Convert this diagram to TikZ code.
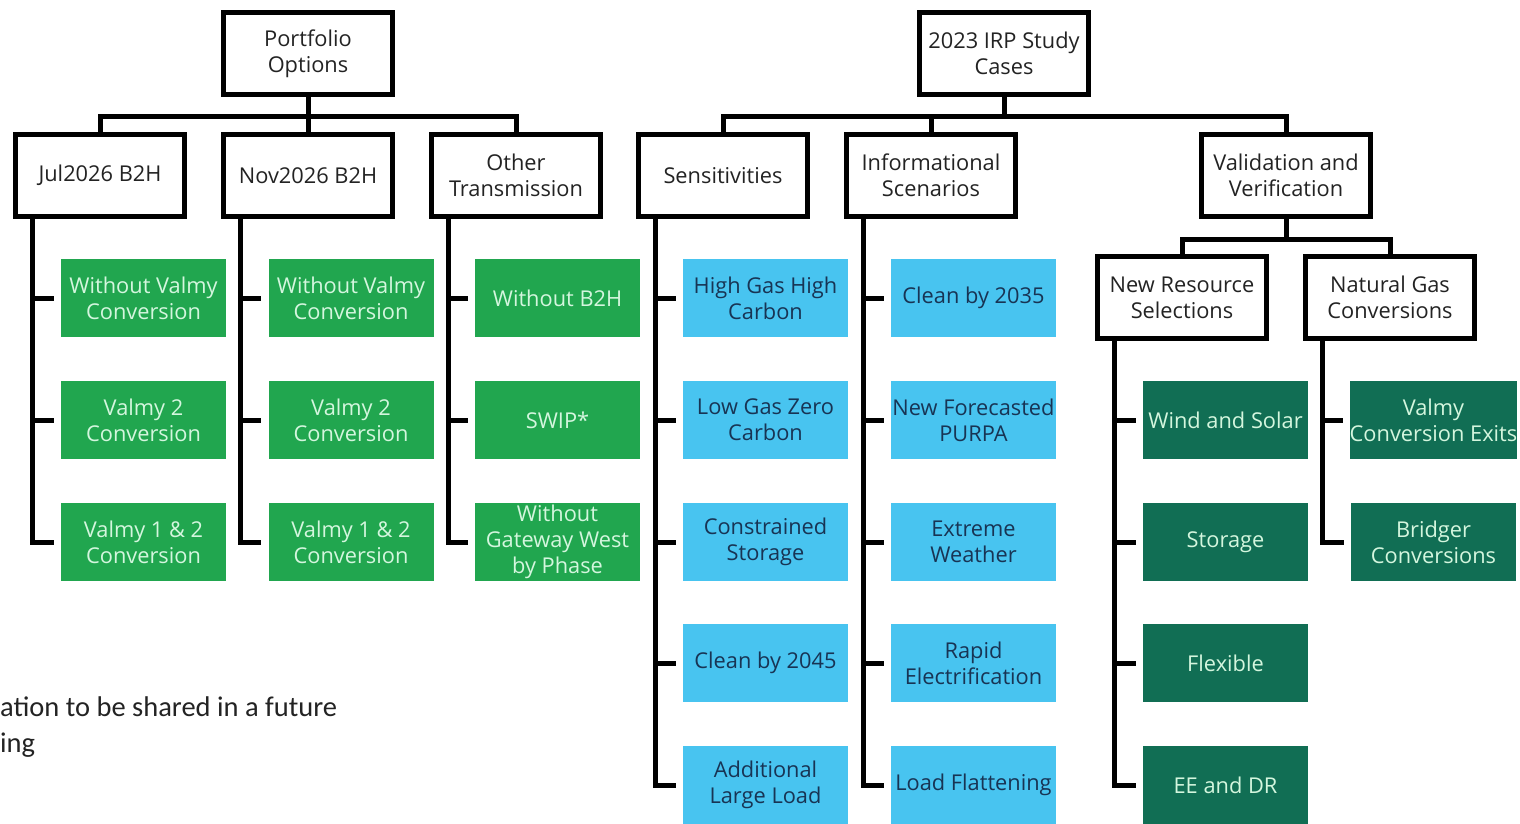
\documentclass[tikz,border=0pt]{standalone}
\usepackage{fontspec}
\setmainfont{Open Sans}
\newfontfamily\notefont{Carlito}
\definecolor{pgreen}{RGB}{33,166,79}
\definecolor{pblue}{RGB}{72,196,240}
\definecolor{dgreen}{RGB}{17,110,84}
\definecolor{mint}{RGB}{212,246,222}
\definecolor{navy}{RGB}{24,52,84}
\definecolor{ink}{RGB}{35,35,35}
\begin{document}
\begin{tikzpicture}[x=1pt,y=-1pt,
  every node/.style={align=center,inner sep=0pt,font=\fontsize{21.8}{26}\selectfont},
  hbox/.style={draw=black,line width=5pt,fill=white,minimum width=169pt,minimum height=82pt,text=ink},
  leafbox/.style={minimum width=165pt,minimum height=78pt},
  gbox/.style={leafbox,fill=pgreen,text=mint},
  bbox/.style={leafbox,fill=pblue,text=navy},
  dbox/.style={leafbox,fill=dgreen,text=mint},
  conn/.style={line width=5pt,black}]
\useasboundingbox (0,0) rectangle (1520,824);
% header boxes
\node[hbox] (PO) at (308,53.5) {Portfolio\\Options};
\node[hbox] (IRP) at (1004,53.5) {2023 IRP Study\\Cases};
\node[hbox] (Jul) at (100,175.5) {Jul2026 B2H};
\node[hbox] (Nov) at (308,175.5) {Nov2026 B2H};
\node[hbox] (Oth) at (516,175.5) {Other\\Transmission};
\node[hbox] (Sens) at (723,175.5) {Sensitivities};
\node[hbox] (Info) at (931,175.5) {Informational\\Scenarios};
\node[hbox] (VV) at (1286,175.5) {Validation and\\Verification};
\node[hbox] (NRS) at (1182,297.5) {New Resource\\Selections};
\node[hbox] (NGC) at (1390,297.5) {Natural Gas\\Conversions};
% green leaves
\node[gbox] (j1) at (143.5,298) {Without Valmy\\Conversion};
\node[gbox] (j2) at (143.5,420) {Valmy 2\\Conversion};
\node[gbox] (j3) at (143.5,542) {Valmy 1 \& 2\\Conversion};
\node[gbox] (n1) at (351,298) {Without Valmy\\Conversion};
\node[gbox] (n2) at (351,420) {Valmy 2\\Conversion};
\node[gbox] (n3) at (351,542) {Valmy 1 \& 2\\Conversion};
\node[gbox] (o1) at (557.5,298) {Without B2H};
\node[gbox] (o2) at (557.5,420) {SWIP*};
\node[gbox] (o3) at (557.5,542) {Without\\Gateway West\\by Phase};
% blue leaves
\node[bbox] (s1) at (765.5,298) {High Gas High\\Carbon};
\node[bbox] (s2) at (765.5,420) {Low Gas Zero\\Carbon};
\node[bbox] (s3) at (765.5,542) {Constrained\\Storage};
\node[bbox] (s4) at (765.5,663) {Clean by 2045};
\node[bbox] (s5) at (765.5,785) {Additional\\Large Load};
\node[bbox] (i1) at (973.5,298) {Clean by 2035};
\node[bbox] (i2) at (973.5,420) {New Forecasted\\PURPA};
\node[bbox] (i3) at (973.5,542) {Extreme\\Weather};
\node[bbox] (i4) at (973.5,663) {Rapid\\Electrification};
\node[bbox] (i5) at (973.5,785) {Load Flattening};
% dark green leaves
\node[dbox] (r1) at (1225.5,420) {Wind and Solar};
\node[dbox] (r2) at (1225.5,542) {Storage};
\node[dbox] (r3) at (1225.5,663) {Flexible};
\node[dbox] (r4) at (1225.5,785) {EE and DR};
\node[dbox] (g1) at (1433.5,420) {Valmy\\Conversion Exits};
\node[dbox] (g2) at (1433.5,542) {Bridger\\Conversions};
% footnote
\node[anchor=north west,align=left,font=\notefont\fontsize{28.5}{36}\selectfont,text=ink] (note) at (0,697) {ation to be shared in a future\\ing};
% buses
\draw[conn] (PO.south) -- ++(0,20) coordinate (pobus);
\draw[conn] (Jul.north) |- (pobus) -| (Oth.north);
\draw[conn] (Nov.north) -- (pobus);
\draw[conn] (IRP.south) -- ++(0,20) coordinate (irpbus);
\draw[conn] (Sens.north) |- (irpbus) -| (VV.north);
\draw[conn] (Info.north) -- (Info.north |- irpbus);
\draw[conn] (VV.south) -- ++(0,20) coordinate (vvbus);
\draw[conn] (NRS.north) |- (vvbus) -| (NGC.north);
% rails
\foreach \p/\last/\mids in {Jul/j3/{j1,j2},Nov/n3/{n1,n2},Oth/o3/{o1,o2},Sens/s5/{s1,s2,s3,s4},Info/i5/{i1,i2,i3,i4},NRS/r4/{r1,r2,r3},NGC/g2/{g1}}{
  \coordinate (rail) at ([xshift=19pt]\p.south west);
  \draw[conn] (rail) |- ([xshift=-7pt]\last.west);
  \foreach \m in \mids {\draw[conn] (rail |- \m.west) -- ([xshift=-7pt]\m.west);}
}
\end{tikzpicture}
\end{document}
